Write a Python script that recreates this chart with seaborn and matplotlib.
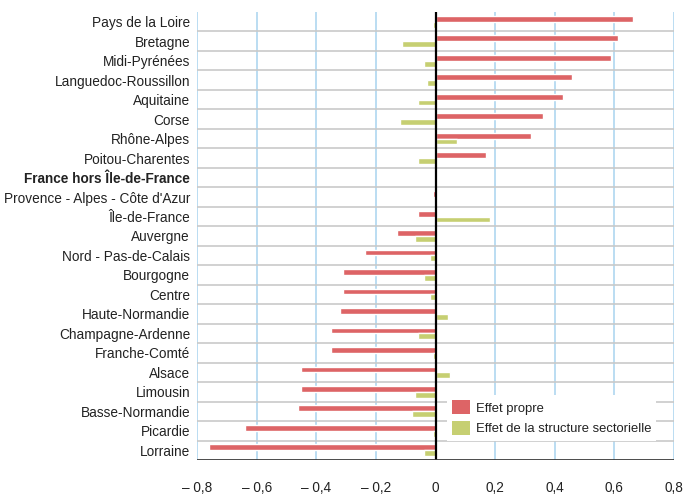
import matplotlib
matplotlib.use("Agg")
import matplotlib.pyplot as plt
from matplotlib import font_manager
from matplotlib.patches import Patch
import seaborn as sns
import pandas as pd

regions = ["Pays de la Loire", "Bretagne", "Midi-Pyrénées", "Languedoc-Roussillon",
           "Aquitaine", "Corse", "Rhône-Alpes", "Poitou-Charentes",
           "France hors Île-de-France", "Provence - Alpes - Côte d'Azur", "Île-de-France",
           "Auvergne", "Nord - Pas-de-Calais", "Bourgogne", "Centre", "Haute-Normandie",
           "Champagne-Ardenne", "Franche-Comté", "Alsace", "Limousin", "Basse-Normandie",
           "Picardie", "Lorraine"]
effet_propre = [0.661, 0.611, 0.590, 0.459, 0.429, 0.362, 0.322, 0.170,
                0.0, -0.009, -0.060, -0.130, -0.238, -0.309, -0.309, -0.319,
                -0.349, -0.349, -0.450, -0.450, -0.460, -0.638, -0.760]
effet_structure = [-0.009, -0.111, -0.039, -0.029, -0.059, -0.120, 0.071, -0.059,
                   0.0, 0.0, 0.182, -0.070, -0.019, -0.039, -0.019, 0.041,
                   -0.059, -0.009, 0.050, -0.070, -0.080, -0.009, -0.039]
series_names = ["Effet propre", "Effet de la structure sectorielle"]
xticks = [-0.8, -0.6, -0.4, -0.2, 0, 0.2, 0.4, 0.6, 0.8]
xticklabels = ["– 0,8", "– 0,6", "– 0,4", "– 0,2", "0", "0,2", "0,4", "0,6", "0,8"]

sns.set_theme(style="white")
avail = {f.name for f in font_manager.fontManager.ttflist}
fam = "Liberation Sans Narrow" if "Liberation Sans Narrow" in avail else "Liberation Sans"
plt.rcParams["font.family"] = [fam, "DejaVu Sans"]

df = pd.DataFrame({
    "region": regions * 2,
    "value": effet_propre + effet_structure,
    "serie": [series_names[0]] * len(regions) + [series_names[1]] * len(regions),
})

red = "#dd6466"
green = "#c6cf72"

fig = plt.figure(figsize=(6.83, 4.96), dpi=100)
ax = fig.add_axes([197 / 683, 36 / 496, 477 / 683, 448 / 496])

sns.barplot(data=df, y="region", x="value", hue="serie", order=regions,
            hue_order=series_names, palette=[red, green], orient="h",
            width=0.6, gap=0, saturation=1, ax=ax, legend=False, zorder=3)

ax.set_xlim(-0.8, 0.8)
ax.set_ylim(len(regions) - 0.5, -0.5)
for s in ax.spines.values():
    s.set_visible(False)

for x in xticks:
    if x != 0:
        ax.axvline(x, color="#b5daf1", lw=1.3, zorder=1)
for i in range(len(regions) - 1):
    ax.axhline(i + 0.5, color="#c9c9c9", lw=1.2, zorder=1)
ax.axvline(0, color="black", lw=1.6, zorder=4)
ax.axhline(len(regions) - 0.5, color="#3a3a3a", lw=2.0, zorder=4)

ax.set_xticks(xticks)
ax.set_xticklabels(xticklabels, fontsize=9.8, color="#222222")
ax.tick_params(axis="x", length=0, pad=15)
ax.tick_params(axis="y", length=0, pad=5)
ax.set_xlabel("")
ax.set_ylabel("")
for lab in ax.get_yticklabels():
    lab.set_fontsize(9.8)
    lab.set_color("#222222")
    if lab.get_text() == "France hors Île-de-France":
        lab.set_fontweight("bold")

handles = [Patch(facecolor=red, edgecolor="none"), Patch(facecolor=green, edgecolor="none")]
leg = ax.legend(handles, series_names, loc="upper left",
                bbox_to_anchor=((447 - 197) / 477, (460 - 395) / 448),
                frameon=True, fontsize=9.4, handlelength=1.35, handleheight=1.25,
                labelspacing=0.5, handletextpad=0.45, borderpad=0.4,
                borderaxespad=0, fancybox=False)
leg.get_frame().set_facecolor("white")
leg.get_frame().set_edgecolor("none")
leg.get_frame().set_alpha(1)
leg.set_zorder(5)
for t in leg.get_texts():
    t.set_color("#222222")

fig.savefig("out.png", dpi=100)
